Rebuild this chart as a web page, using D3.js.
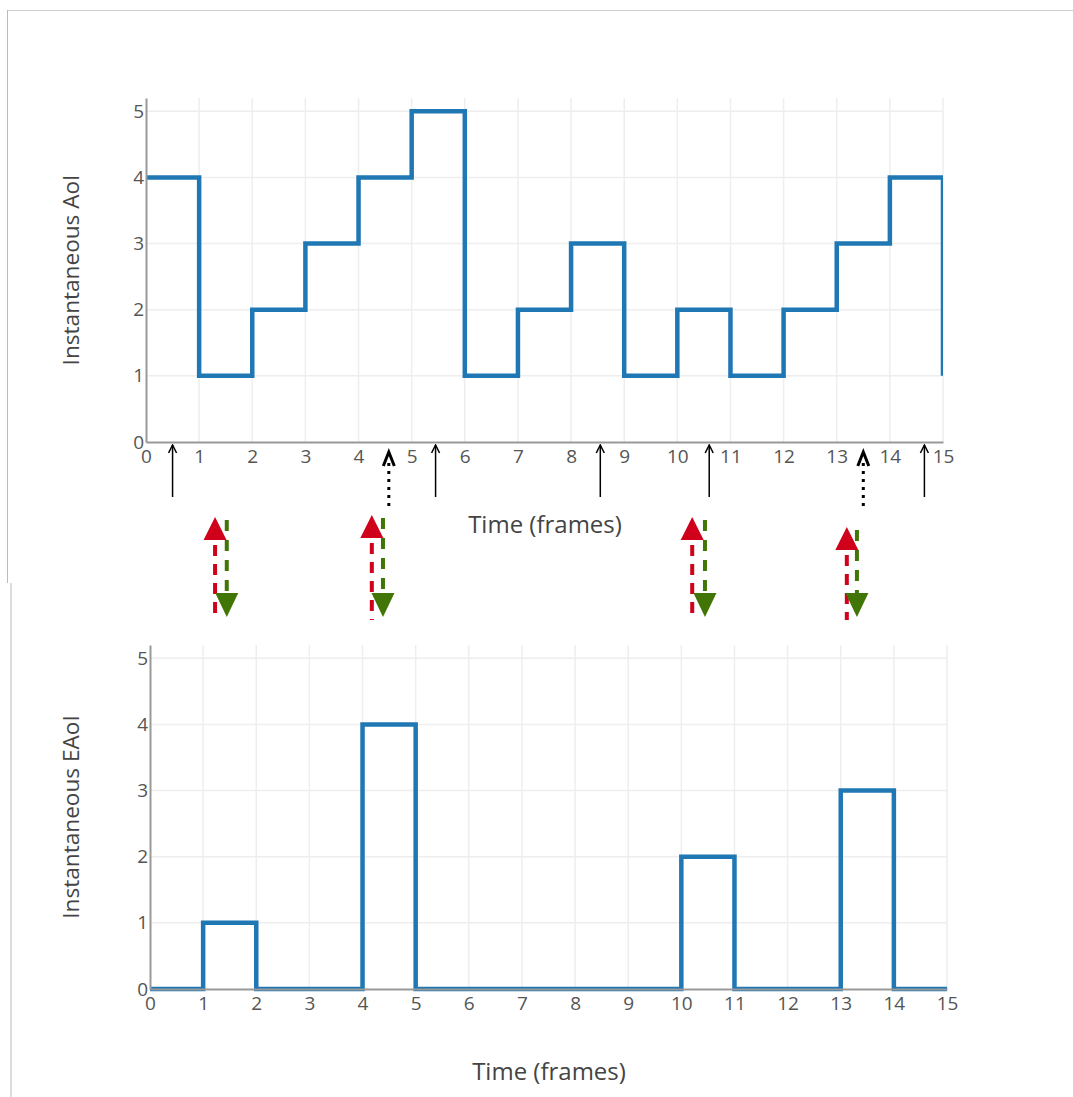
<!DOCTYPE html>
<html>
<head>
<meta charset="utf-8">
<title>Instantaneous AoI / EAoI</title>
<script src="https://d3js.org/d3.v7.min.js"></script>
<style>
  body { margin: 0; background: #fff; font-family: "Open Sans", sans-serif; }
  .tick text { fill: #555; }
  .ttl { fill: #444; }
</style>
</head>
<body>
<svg id="fig" width="1073" height="1097"></svg>
<script>
// frames 0..15, value held until next frame (step after)
var frames = [0, 1, 2, 3, 4, 5, 6, 7, 8, 9, 10, 11, 12, 13, 14, 15];
var aoi    = [4, 1, 2, 3, 4, 5, 1, 2, 3, 1, 2, 1, 2, 3, 4, 1];
var eaoi   = [0, 1, 0, 0, 4, 0, 0, 0, 0, 0, 2, 0, 0, 3, 0, 0];
var xTicks = [0, 1, 2, 3, 4, 5, 6, 7, 8, 9, 10, 11, 12, 13, 14, 15];
var yTicks = [0, 1, 2, 3, 4, 5];

// annotation times (frames)
var thinArrows   = [0.5, 5.45, 8.55, 10.6, 14.65];
var dottedArrows = [4.57, 13.5];
var redUp     = [1.30, 4.25, 10.28, 13.19];
var greenDown = [1.52, 4.46, 10.52, 13.38];
var pairTop   = [517, 515, 517, 527];

var svg = d3.select("#fig");

// outer frame lines
svg.append("line").attr("x1", 7).attr("x2", 1073).attr("y1", 10.5).attr("y2", 10.5)
  .attr("stroke", "#cfcfcf").attr("stroke-width", 1);
svg.append("line").attr("x1", 7.5).attr("x2", 7.5).attr("y1", 10).attr("y2", 583)
  .attr("stroke", "#bbb").attr("stroke-width", 1);
svg.append("line").attr("x1", 11).attr("x2", 11).attr("y1", 583).attr("y2", 1097)
  .attr("stroke", "#ddd").attr("stroke-width", 2);

function panel(opts) {
  var x = d3.scaleLinear().domain([0, 15]).range([opts.left, opts.right]);
  var y = d3.scaleLinear().domain([0, 5.2]).range([opts.bottom, opts.top]);
  var g = svg.append("g");

  // grid
  g.append("g").selectAll("line").data(xTicks.slice(1)).join("line")
    .attr("x1", function(d) { return x(d); }).attr("x2", function(d) { return x(d); })
    .attr("y1", opts.top).attr("y2", opts.bottom)
    .attr("stroke", "#eee").attr("stroke-width", 1.5);
  g.append("g").selectAll("line").data(yTicks.slice(1)).join("line")
    .attr("x1", opts.left).attr("x2", opts.right)
    .attr("y1", function(d) { return y(d); }).attr("y2", function(d) { return y(d); })
    .attr("stroke", "#eee").attr("stroke-width", 1.5);

  // step line
  var cid = "clip" + opts.id;
  svg.append("clipPath").attr("id", cid).append("rect")
    .attr("x", opts.left).attr("y", opts.top - 10)
    .attr("width", opts.right - opts.left).attr("height", opts.bottom - opts.top + 20);
  var line = d3.line()
    .x(function(d, i) { return x(frames[i]); })
    .y(function(d) { return y(d); })
    .curve(d3.curveStepAfter);
  g.append("path").datum(opts.values)
    .attr("clip-path", "url(#" + cid + ")")
    .attr("d", line).attr("fill", "none")
    .attr("stroke", "#1f77b4").attr("stroke-width", 4.5);

  // axes
  var xAxis = d3.axisBottom(x).tickValues(xTicks).tickFormat(d3.format("d")).tickSize(0).tickPadding(8);
  var gx = g.append("g").attr("transform", "translate(0," + opts.bottom + ")").call(xAxis);
  gx.select(".domain").attr("stroke", "#999").attr("stroke-width", 2);
  gx.selectAll(".tick text").attr("font-size", 19).attr("font-family", "Open Sans");

  var yAxis = d3.axisLeft(y).tickValues(yTicks).tickFormat(d3.format("d")).tickSize(0).tickPadding(2);
  var gy = g.append("g").attr("transform", "translate(" + opts.left + ",0)").call(yAxis);
  gy.select(".domain").attr("stroke", "#999").attr("stroke-width", 2);
  gy.selectAll(".tick text").attr("font-size", 19).attr("font-family", "Open Sans");

  // titles
  g.append("text").attr("class", "ttl")
    .attr("x", opts.xTitleX).attr("y", opts.xTitleY)
    .attr("text-anchor", "middle").attr("font-size", 24).text("Time (frames)");
  g.append("text").attr("class", "ttl")
    .attr("transform", "translate(" + opts.yTitleX + "," + (opts.top + opts.bottom) / 2 + ") rotate(-90)")
    .attr("text-anchor", "middle").attr("font-size", 22.6).text(opts.yTitle);

  return x;
}

var xTop = panel({ id: 1, left: 146, right: 943, top: 98, bottom: 442,
  values: aoi, yTitle: "Instantaneous AoI", xTitleX: 545, xTitleY: 533, yTitleX: 79 });
panel({ id: 2, left: 150, right: 947, top: 645, bottom: 989,
  values: eaoi, yTitle: "Instantaneous EAoI", xTitleX: 549, xTitleY: 1080, yTitleX: 79 });

// markers
var defs = svg.append("defs");
defs.append("marker").attr("id", "openHead").attr("viewBox", "0 0 10 10")
  .attr("refX", 9).attr("refY", 5).attr("markerWidth", 10).attr("markerHeight", 10)
  .attr("markerUnits", "userSpaceOnUse").attr("orient", "auto")
  .append("path").attr("d", "M1,1 L9,5 L1,9").attr("fill", "none")
  .attr("stroke", "#000").attr("stroke-width", 1.5);

// thin arrows under top axis
svg.append("g").selectAll("line").data(thinArrows).join("line")
  .attr("x1", function(d) { return xTop(d); }).attr("x2", function(d) { return xTop(d); })
  .attr("y1", 497).attr("y2", 445)
  .attr("stroke", "#000").attr("stroke-width", 1.5)
  .attr("marker-end", "url(#openHead)");

// dotted arrows
var dg = svg.append("g");
dg.selectAll("line.dots").data(dottedArrows).join("line").attr("class", "dots")
  .attr("x1", function(d) { return xTop(d); }).attr("x2", function(d) { return xTop(d); })
  .attr("y1", 506).attr("y2", 461)
  .attr("stroke", "#000").attr("stroke-width", 3).attr("stroke-dasharray", "3,5");
dg.selectAll("path").data(dottedArrows).join("path")
  .attr("d", function(d) {
    var cx = xTop(d);
    return "M" + (cx - 5.5) + ",466 L" + cx + ",452 L" + (cx + 5.5) + ",466";
  })
  .attr("fill", "none").attr("stroke", "#000").attr("stroke-width", 3);

// red up / green down dashed arrows
var pg = svg.append("g");
var red = "#d0021b", green = "#417505";
pg.selectAll("line.red").data(redUp).join("line").attr("class", "red")
  .attr("x1", function(d) { return xTop(d); }).attr("x2", function(d) { return xTop(d); })
  .attr("y1", function(d, i) { return pairTop[i] + 28; }).attr("y2", 620)
  .attr("stroke", red).attr("stroke-width", 4).attr("stroke-dasharray", "11,8");
pg.selectAll("line.green").data(greenDown).join("line").attr("class", "green")
  .attr("x1", function(d) { return xTop(d); }).attr("x2", function(d) { return xTop(d); })
  .attr("y1", function(d, i) { return pairTop[i] + 3; }).attr("y2", 598)
  .attr("stroke", green).attr("stroke-width", 4).attr("stroke-dasharray", "11,9");
pg.selectAll("path.redh").data(redUp).join("path").attr("class", "redh")
  .attr("d", function(d, i) {
    var cx = xTop(d), t = pairTop[i];
    return "M" + cx + "," + t + " L" + (cx + 11.5) + "," + (t + 23) + " L" + (cx - 11.5) + "," + (t + 23) + "Z";
  })
  .attr("fill", red);
pg.selectAll("path.greenh").data(greenDown).join("path").attr("class", "greenh")
  .attr("d", function(d) {
    var cx = xTop(d);
    return "M" + (cx - 11.5) + ",593 L" + (cx + 11.5) + ",593 L" + cx + ",617Z";
  })
  .attr("fill", green);
</script>
</body>
</html>
